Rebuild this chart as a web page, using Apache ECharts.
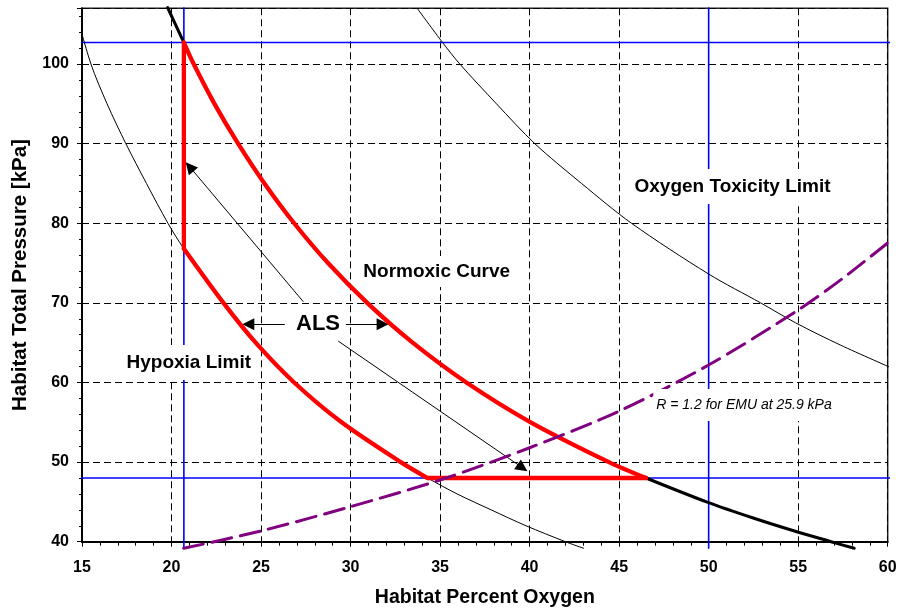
<!DOCTYPE html>
<html>
<head>
<meta charset="utf-8">
<script src="https://cdn.jsdelivr.net/npm/echarts@6/dist/echarts.min.js"></script>
<style>
html, body { margin: 0; padding: 0; background: #fff; }
#chart { width: 899px; height: 611px; }
</style>
</head>
<body>
<div id="chart"></div>
<script>
// x = habitat percent oxygen, y = habitat total pressure [kPa]
// normoxic curve (black where outside the ALS box, red where it bounds it)
var normoxicTop = [[19.78, 107.1], [20.69, 102.7]];
var normoxicAls = [[20.69, 102.7], [21.24, 100], [22.4, 95], [23.72, 90], [25.19, 85], [26.85, 80],
	[28.74, 75], [30.93, 70], [33.47, 65], [36.47, 60], [40.06, 55], [44.43, 50], [46.5, 48]];
var normoxicBottom = [[46.5, 48], [49.88, 45], [52.53, 42.94], [54.79, 41.34], [56.84, 40], [58.13, 39.17]];

// hypoxia limit curve
var hypoxiaCurve = [[14.61, 106.9], [15.5, 100], [16.4, 95], [17.45, 90], [18.6, 85], [19.8, 80],
	[20.69, 76.8], [22.9, 70], [24.7, 65], [26.85, 60], [29.5, 55], [32.8, 50], [34.3, 48],
	[35.95, 46], [37.85, 44], [39.8, 42], [42.0, 40], [43.02, 39.17]];
var alsLower = [[20.69, 76.8], [22.9, 70], [24.7, 65], [26.85, 60], [29.5, 55], [32.8, 50], [34.3, 48]];
var alsVertical = [[20.69, 102.7], [20.69, 76.8]];
var alsBottom = [[34.3, 48], [46.5, 48]];

// oxygen toxicity limit curve
var toxicityCurve = [[33.72, 107.0], [35.14, 102.7], [36.1, 100], [38.15, 95], [40.29, 90], [42.9, 85],
	[45.69, 80], [50, 73.62], [52.9, 70], [54.85, 67.5], [57.35, 64.71], [60.39, 61.65]];

// R = 1.2 for EMU at 25.9 kPa
var emuCurve = [[20.68, 39.17], [25, 41.35], [30, 44.4], [35, 47.75], [40, 51.8], [45, 56.4],
	[50, 62.2], [55, 69.1], [57.5, 73.1], [60.39, 78.23]];

// blue limit lines
var pressureHigh = [[14.61, 102.7], [60.39, 102.7]];
var pressureLow = [[14.61, 48], [60.39, 48]];
var oxygenLow = [[20.69, 107.03], [20.69, 39.17]];
var oxygenHigh = [[50, 107.03], [50, 39.17]];

// ALS annotation arrows [from, to]
var alsArrows = [
	[[27.36, 70.14], [21.01, 87.10]],
	[[26.33, 67.3], [24.29, 67.3]],
	[[29.74, 67.3], [31.79, 67.3]],
	[[29.31, 65.2], [39.60, 49.29]]
];

var FONT = 'Liberation Sans, Arial, sans-serif';

function curve(data, color, width, dash, z, smooth) {
	return {
		type: 'line',
		data: data,
		symbol: 'none',
		showSymbol: false,
		clip: false,
		silent: true,
		smooth: smooth ? 0.3 : false,
		z: z,
		lineStyle: { color: color, width: width, type: dash || 'solid', cap: 'round', join: 'round' }
	};
}

var chart = echarts.init(document.getElementById('chart'));

var hypo = curve(hypoxiaCurve, '#000', 1, null, 3, true);
hypo.markLine = {
	silent: true,
	animation: false,
	symbol: ['none', 'triangle'],
	symbolSize: 12,
	label: { show: false },
	lineStyle: { color: '#000', width: 1, type: 'solid' },
	itemStyle: { color: '#000' },
	data: alsArrows.map(function (a) {
		return [{ coord: a[0] }, { coord: a[1] }];
	})
};

var option = {
	animation: false,
	backgroundColor: '#fff',
	grid: {
		left: 82, right: 11.3, top: 8.3, bottom: 69.3,
		show: true, borderColor: '#222', borderWidth: 1.5,
		outerBoundsMode: 'none'
	},
	xAxis: {
		type: 'value',
		min: 15, max: 60, interval: 5,
		name: 'Habitat Percent Oxygen',
		nameLocation: 'middle',
		nameGap: 46,
		nameTextStyle: { fontFamily: FONT, fontWeight: 'bold', fontSize: 19.5, color: '#000' },
		axisLine: { onZero: false, lineStyle: { color: '#000', width: 2 } },
		axisTick: { show: true, length: 5, lineStyle: { color: '#000', width: 1 } },
		minorTick: { show: true, splitNumber: 5, length: 4, lineStyle: { color: '#000', width: 1 } },
		axisLabel: { margin: 18, fontFamily: FONT, fontWeight: 'bold', fontSize: 16, color: '#000' },
		splitLine: { show: true, lineStyle: { color: '#000', width: 1, type: [7, 4] } }
	},
	yAxis: {
		type: 'value',
		min: 40, max: 107, interval: 10,
		name: 'Habitat Total Pressure [kPa]',
		nameLocation: 'middle',
		nameGap: 51,
		nameTextStyle: { fontFamily: FONT, fontWeight: 'bold', fontSize: 20.5, color: '#000' },
		axisLine: { onZero: false, lineStyle: { color: '#000', width: 2 } },
		axisTick: { show: true, length: 5, lineStyle: { color: '#000', width: 1 } },
		minorTick: { show: true, splitNumber: 5, length: 3, lineStyle: { color: '#000', width: 1 } },
		axisLabel: { margin: 13, showMaxLabel: false, fontFamily: FONT, fontWeight: 'bold', fontSize: 16, color: '#000' },
		splitLine: { show: true, lineStyle: { color: '#000', width: 1, type: [7, 4] } }
	},
	series: [
		curve(pressureHigh, '#0000ff', 1.6, null, 2),
		curve(pressureLow, '#0000ff', 1.6, null, 2),
		curve(oxygenLow, '#0000ff', 1.6, null, 2),
		curve(oxygenHigh, '#0000ff', 1.6, null, 2),
		hypo,
		curve(toxicityCurve, '#000', 1, null, 3, true),
		curve(normoxicTop, '#000', 3, null, 4),
		curve(normoxicBottom, '#000', 3, null, 4, true),
		curve(normoxicAls, '#ff0000', 4.3, null, 5, true),
		curve(alsLower, '#ff0000', 4.3, null, 5, true),
		curve(alsVertical, '#ff0000', 4.3, null, 5),
		curve(alsBottom, '#ff0000', 4.3, null, 5),
		curve(emuCurve, '#800080', 3, [20, 9], 6, true)
	],
	graphic: [
		{ type: 'text', x: 732.5, y: 186.5, z: 50, style: { text: 'Oxygen Toxicity Limit', font: 'bold 19px ' + FONT, fill: '#000', align: 'center', verticalAlign: 'middle', textAlign: 'center', textVerticalAlign: 'middle', backgroundColor: '#fff', padding: [8, 3] } },
		{ type: 'text', x: 436.7, y: 271.5, z: 50, style: { text: 'Normoxic Curve', font: 'bold 19px ' + FONT, fill: '#000', align: 'center', verticalAlign: 'middle', textAlign: 'center', textVerticalAlign: 'middle', backgroundColor: '#fff', padding: [6, 3] } },
		{ type: 'text', x: 188.8, y: 362.5, z: 50, style: { text: 'Hypoxia Limit', font: 'bold 19px ' + FONT, fill: '#000', align: 'center', verticalAlign: 'middle', textAlign: 'center', textVerticalAlign: 'middle', backgroundColor: '#fff', padding: [8, 3] } },
		{ type: 'text', x: 318, y: 323.5, z: 50, style: { text: 'ALS', font: 'bold 22px ' + FONT, fill: '#000', align: 'center', verticalAlign: 'middle', textAlign: 'center', textVerticalAlign: 'middle', backgroundColor: '#fff', padding: [4, 3] } },
		{ type: 'text', x: 744, y: 405, z: 50, style: { text: 'R = 1.2 for EMU at 25.9 kPa', font: 'italic 14px ' + FONT, fill: '#000', align: 'center', verticalAlign: 'middle', textAlign: 'center', textVerticalAlign: 'middle', backgroundColor: '#fff', padding: [10, 3, 8, 3] } }
	]
};

chart.setOption(option);
</script>
</body>
</html>
